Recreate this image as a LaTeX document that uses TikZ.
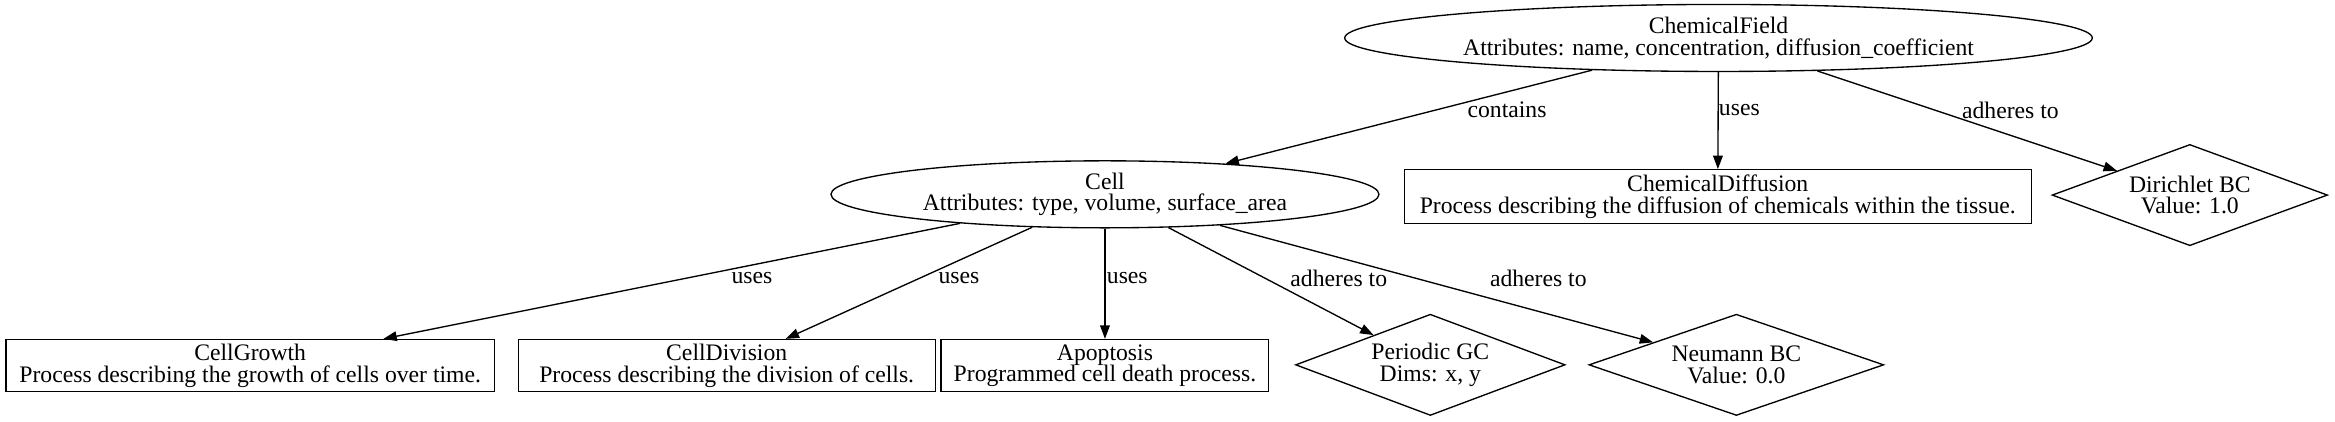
\documentclass[tikz,border=0pt]{standalone}
\usepackage{fontspec}
\setmainfont{Liberation Serif}
\usetikzlibrary{shapes.geometric,arrows.meta}
\begin{document}
\begin{tikzpicture}[x=1pt,y=1pt,
  every node/.style={font=\fontsize{15.9}{14.5}\selectfont, align=center, inner sep=0pt},
  ell/.style={draw, ellipse, line width=0.9pt},
  box/.style={draw, rectangle, line width=0.9pt},
  dia/.style={draw, diamond, aspect=2.7, line width=0.9pt},
  arr/.style={-{Triangle[length=9pt,width=6.5pt]}, line width=0.9pt},
  lab/.style={fill=none}]
\useasboundingbox (0,0) rectangle (1568,283);
\node[ell, minimum width=502pt, minimum height=45pt] (cf) at (1154,257.5) {ChemicalField\\Attributes: name, concentration, diffusion\_coefficient};
\node[ell, minimum width=368pt, minimum height=45pt] (cell) at (742,152.5) {Cell\\Attributes: type, volume, surface\_area};
\node[box, minimum width=421pt, minimum height=36pt] (cd) at (1153.5,151) {ChemicalDiffusion\\Process describing the diffusion of chemicals within the tissue.};
\node[dia, minimum width=185pt, minimum height=68pt] (dir) at (1470.5,152) {Dirichlet BC\\Value: 1.0};
\node[box, minimum width=328pt, minimum height=35pt] (cg) at (168,37.5) {CellGrowth\\Process describing the growth of cells over time.};
\node[box, minimum width=280pt, minimum height=35pt] (cdv) at (488,37.5) {CellDivision\\Process describing the division of cells.};
\node[box, minimum width=220pt, minimum height=35pt] (apo) at (742,37.5) {Apoptosis\\Programmed cell death process.};
\node[dia, minimum width=181pt, minimum height=68pt] (per) at (960.5,38) {Periodic GC\\Dims: x, y};
\node[dia, minimum width=198pt, minimum height=68pt] (neu) at (1166,38) {Neumann BC\\Value: 0.0};

\draw[arr] (cf) -- (cell);
\draw[arr] (cf) -- (cd);
\draw[arr] (cf) -- (dir);
\draw[arr] (cell) -- (cg);
\draw[arr] (cell) -- (cdv);
\draw[arr] (cell) -- (apo);
\draw[arr] (cell) -- (per);
\draw[arr] (cell) -- (neu);

\node[lab] (l1) at (1012,209) {contains};
\node[lab] (l2) at (1168,209) {uses};
\node[lab] (l3) at (1350,209) {adheres to};
\node[lab] (l4) at (505,96) {uses};
\node[lab] (l5) at (644,96) {uses};
\node[lab] (l6) at (757,96) {uses};
\node[lab] (l7) at (899,96) {adheres to};
\node[lab] (l8) at (1033,96) {adheres to};
\end{tikzpicture}
\end{document}
